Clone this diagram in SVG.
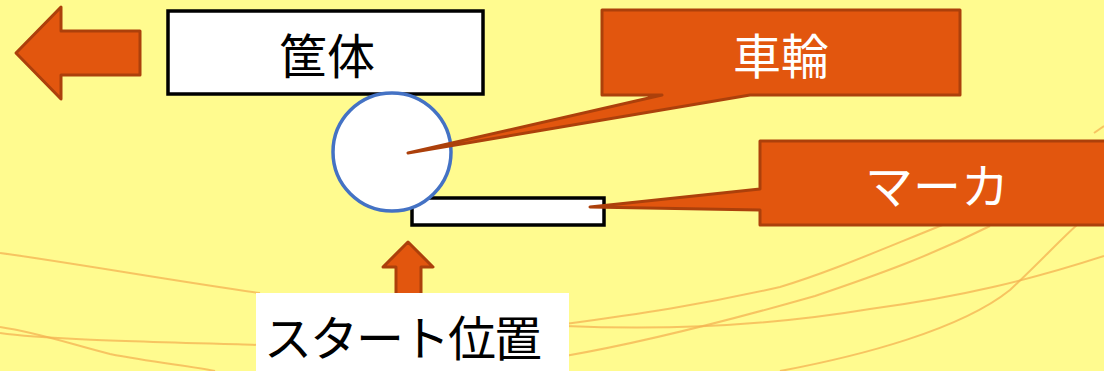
<svg xmlns="http://www.w3.org/2000/svg" width="1104" height="371" viewBox="0 0 1104 371">
<style>
.bg{fill:#FFFB8F}
.deco{fill:none;stroke:#F4B252;stroke-width:2;stroke-opacity:0.75}
.orange{fill:#E2560E;stroke:#AC400B;stroke-width:3;stroke-linejoin:round}
.box{fill:#FFFFFF;stroke:#000000;stroke-width:3.5}
.wheel{fill:#FFFFFF;stroke:#4472C4;stroke-width:3.5}
.lbl{font-family:"Noto Sans CJK JP","Noto Sans",sans-serif;font-size:48px;font-weight:400;text-anchor:middle;dominant-baseline:central}
.dark{fill:#000000}
.light{fill:#FFFFFF}
</style>
<rect class="bg" x="0" y="0" width="1104" height="371"/>
<g id="background-lines">
<path class="deco" d="M0,253 C80,264 180,282 260,293"/>
<path class="deco" d="M0,327 C40,333 70,344 110,354 C150,362 190,366 215,371"/>
<path class="deco" d="M0,333 C40,339 120,341 260,345"/>
<path class="deco" d="M565,324 C640,314 700,305 780,287 C830,272 880,250 945,224"/>
<path class="deco" d="M565,356 C640,343 720,323 815,296 C880,274 930,256 990,226"/>
<path class="deco" d="M565,326 C680,331 780,324 870,309 C960,297 1030,280 1104,256"/>
<path class="deco" d="M780,371 C860,356 960,330 1010,290 C1040,262 1060,240 1078,224"/>
<path class="deco" d="M1094,133 L1104,126"/>
</g>
<g id="arrow-left">
<path class="orange" d="M16,53 L61,7 V31 H140 V75 H61 V99 Z"/>
</g>
<g id="housing">
<rect class="box" x="168" y="11" width="315" height="83"/>
<text class="lbl dark" x="327" y="53">筐体</text>
</g>
<g id="marker">
<rect class="box" x="412" y="198" width="192" height="27"/>
</g>
<g id="wheel">
<circle class="wheel" cx="392" cy="152" r="59"/>
</g>
<g id="connectors">
<g id="arrow-up">
<path class="orange" d="M408,242 L433,267 H421 V300 H396 V267 H383 Z"/>
</g>
</g>
<g id="callout-wheel">
<path class="orange" d="M602,10 H960 V95 H750 L408,153 L662,95 H602 Z"/>
<text class="lbl light" x="781" y="53" font-size="46">車輪</text>
</g>
<g id="callout-marker">
<path class="orange" d="M760,141 H1110 V225 H760 V210 L590,207 L760,189 Z"/>
<text class="lbl light" x="937" y="183" font-size="44">マーカ</text>
</g>
<g id="start-position">
<rect x="256" y="293" width="313" height="80" fill="#FFFFFF"/>
<text class="lbl dark" x="402" y="335" font-size="43" letter-spacing="-2">スタート位置</text>
</g>
</svg>
